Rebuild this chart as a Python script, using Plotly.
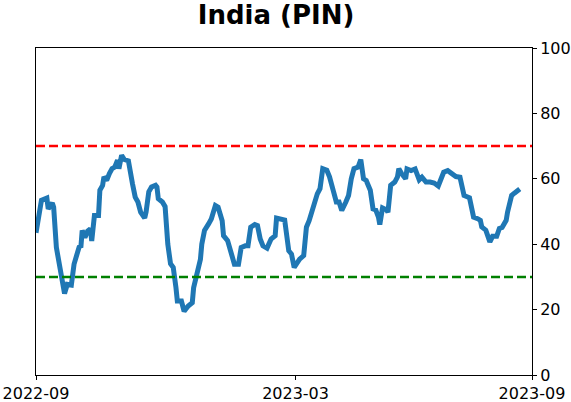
import plotly.graph_objects as go

dates = [
    "2022-09-01", "2022-09-05", "2022-09-09", "2022-09-10", "2022-09-13", "2022-09-14", "2022-09-16",
    "2022-09-20", "2022-09-22", "2022-09-24", "2022-09-27", "2022-09-29", "2022-10-03", "2022-10-04",
    "2022-10-05", "2022-10-07", "2022-10-09", "2022-10-11", "2022-10-12", "2022-10-14", "2022-10-17",
    "2022-10-18", "2022-10-20", "2022-10-21", "2022-10-23", "2022-10-25", "2022-10-27", "2022-10-29",
    "2022-10-31", "2022-11-01", "2022-11-03", "2022-11-05", "2022-11-08", "2022-11-11", "2022-11-13",
    "2022-11-15", "2022-11-17", "2022-11-20", "2022-11-21", "2022-11-23", "2022-11-25", "2022-11-28",
    "2022-11-29", "2022-11-30", "2022-12-03", "2022-12-05", "2022-12-07", "2022-12-09", "2022-12-11",
    "2022-12-13", "2022-12-14", "2022-12-17", "2022-12-19", "2022-12-22", "2022-12-25", "2022-12-26",
    "2022-12-29", "2022-12-31", "2023-01-01", "2023-01-03", "2023-01-06", "2023-01-08", "2023-01-11",
    "2023-01-13", "2023-01-16", "2023-01-17", "2023-01-20", "2023-01-23", "2023-01-25", "2023-01-28",
    "2023-01-30", "2023-02-02", "2023-02-04", "2023-02-06", "2023-02-09", "2023-02-11", "2023-02-13",
    "2023-02-15", "2023-02-18", "2023-02-21", "2023-02-24", "2023-02-25", "2023-03-01", "2023-03-03",
    "2023-03-06", "2023-03-08", "2023-03-10", "2023-03-14", "2023-03-17", "2023-03-19", "2023-03-21",
    "2023-03-24", "2023-03-27", "2023-03-29", "2023-03-31", "2023-04-03", "2023-04-05", "2023-04-08",
    "2023-04-10", "2023-04-12", "2023-04-14", "2023-04-17", "2023-04-19", "2023-04-21", "2023-04-23",
    "2023-04-26", "2023-04-28", "2023-04-30", "2023-05-02", "2023-05-05", "2023-05-07", "2023-05-09",
    "2023-05-11", "2023-05-12", "2023-05-14", "2023-05-17", "2023-05-18", "2023-05-20", "2023-05-23",
    "2023-05-25", "2023-05-26", "2023-05-28", "2023-05-31", "2023-06-01", "2023-06-04", "2023-06-07",
    "2023-06-10", "2023-06-12", "2023-06-15", "2023-06-18", "2023-06-21", "2023-06-24", "2023-06-26",
    "2023-06-28", "2023-07-01", "2023-07-04", "2023-07-07", "2023-07-10", "2023-07-12", "2023-07-13",
    "2023-07-17", "2023-07-18", "2023-07-20", "2023-07-23", "2023-07-25", "2023-07-26", "2023-07-29",
    "2023-08-01", "2023-08-03", "2023-08-06", "2023-08-08", "2023-08-10", "2023-08-13", "2023-08-14",
    "2023-08-17", "2023-08-19", "2023-08-22", "2023-08-23",
]

values = [
    43.5, 53.4, 54.1, 50.8, 52.6, 51.3, 39.0,
    30.8, 24.9, 27.7, 27.5, 33.9, 39.5, 39.0,
    44.2, 42.0, 44.0, 44.7, 41.0, 48.8, 48.8,
    56.5, 58.0, 60.6, 59.5, 61.6, 63.1, 63.6,
    65.7, 63.1, 67.2, 65.9, 65.5, 58.5, 54.4,
    52.9, 49.8, 48.0, 49.8, 56.0, 57.5, 58.0,
    57.5, 53.9, 52.9, 51.5, 40.0, 34.0, 32.9,
    26.7, 22.6, 22.6, 19.5, 21.1, 22.1, 26.7,
    31.8, 35.4, 40.0, 44.2, 46.2, 47.7, 51.8,
    51.3, 47.2, 42.6, 41.1, 36.0, 33.9, 33.9,
    39.0, 39.5, 39.5, 45.2, 46.0, 45.7, 41.6,
    39.5, 38.8, 41.6, 42.6, 48.0, 47.4, 47.4,
    38.0, 37.0, 32.9, 35.4, 36.5, 45.2, 47.2,
    51.8, 55.4, 57.0, 63.1, 62.6, 60.6, 56.0,
    52.9, 52.9, 50.3, 52.9, 54.9, 60.0, 63.1,
    63.6, 65.9, 60.0, 59.5, 56.5, 50.8, 50.5,
    48.3, 46.0, 51.1, 50.5, 49.8, 58.0, 59.0,
    60.6, 63.1, 61.6, 60.0, 63.0, 62.5, 63.0,
    59.7, 60.5, 59.0, 59.0, 58.7, 57.8, 59.5,
    62.0, 62.5, 61.5, 60.7, 60.5, 57.5, 54.9,
    54.2, 52.4, 48.3, 47.8, 47.3, 45.3, 44.3,
    40.7, 42.4, 42.4, 44.8, 45.1, 47.3, 49.8,
    54.9, 55.6, 56.4, 56.9,
]

upper_level = 70
lower_level = 30
x_range = ["2022-09-01", "2023-09-01"]
x_tick_vals = ["2022-09-01", "2023-03-11", "2023-09-01"]
x_tick_text = ["2022-09", "2023-03", "2023-09"]
y_ticks = [0, 20, 40, 60, 80, 100]

fig = go.Figure()
fig.add_trace(go.Scatter(
    x=dates, y=values, mode="lines",
    line=dict(color="#1f77b4", width=5),
    showlegend=False,
))

fig.add_shape(type="line", xref="paper", x0=0, x1=1, yref="y", y0=upper_level, y1=upper_level,
              line=dict(color="#ff0000", width=2.5, dash="9px,4px"))
fig.add_shape(type="line", xref="paper", x0=0, x1=1, yref="y", y0=lower_level, y1=lower_level,
              line=dict(color="#008000", width=2.5, dash="9px,4px"))

font_family = "DejaVu Sans"
fig.update_layout(
    width=571, height=402,
    margin=dict(l=36, r=39, t=48, b=27),
    paper_bgcolor="white", plot_bgcolor="white",
    title=dict(text="<b>India (PIN)</b>", x=0.484, xanchor="center", xref="paper",
               y=0.962, yanchor="middle", yref="container",
               font=dict(family=font_family, size=26, color="black")),
    font=dict(family=font_family, size=16, color="black"),
)
fig.update_xaxes(
    type="date", range=x_range, tickvals=x_tick_vals, ticktext=x_tick_text, automargin=False,
    showgrid=False, zeroline=False, showline=True, linecolor="black", linewidth=1, mirror=True,
    ticks="outside", ticklen=4, tickcolor="black", tickfont=dict(size=16),
)
fig.update_yaxes(
    range=[0, 100], tickvals=y_ticks, side="right", automargin=False,
    showgrid=False, zeroline=False, showline=True, linecolor="black", linewidth=1, mirror=True,
    ticks="outside", ticklen=4, tickcolor="black", tickfont=dict(size=16),
)

fig.write_html("out.html")
